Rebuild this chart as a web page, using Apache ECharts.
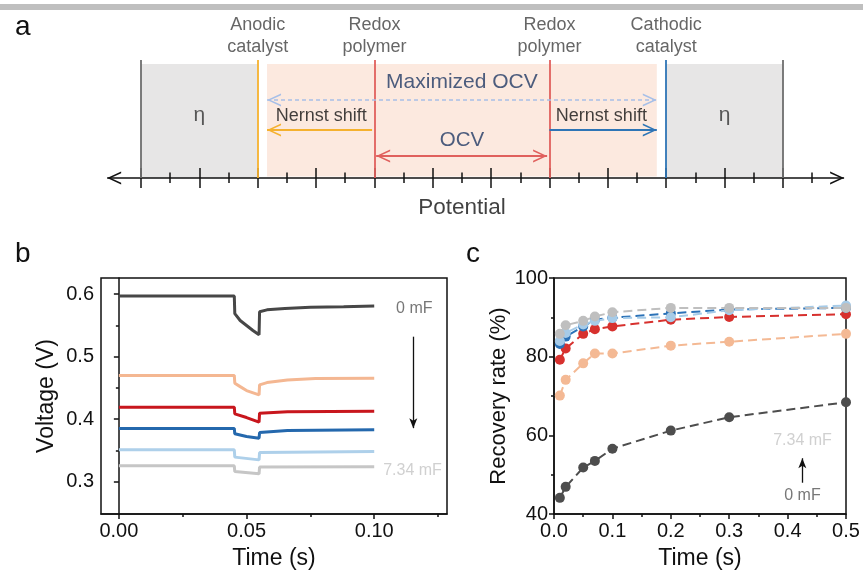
<!DOCTYPE html>
<html><head><meta charset="utf-8">
<script src="https://cdn.jsdelivr.net/npm/echarts@6/dist/echarts.min.js"></script>
<style>html,body{margin:0;padding:0;background:#fff}#c{width:863px;height:572px}</style>
</head><body><div id="c"></div>
<script>
// ================= DATA =================
// ---- panel a : schematic on a potential axis (arbitrary units) ----
const potentialMajorTicks = [0,1,2,3,4,5,6,7,8,9,10,11];
const potentialMinorTicks = [0.5,1.5,2.5,3.5,4.5,5.5,6.5,7.5,8.5,9.5,10.5,11.5];
const potentialAxisEnds = [-0.58, 12.05];
const overpotentialLeft = [0, 2];
const overpotentialRight = [9, 11];
const nernstWindow = [2.16, 8.84];
const levelPotentials = [0, 2, 4, 7, 9, 11];       // boundary, anodic cat., redox, redox, cathodic cat., boundary
const redoxPotentials = [4, 7];

// ---- panel b : voltage transients, time (s) / voltage (V) ----
const tB_0mF   = [0, 0.0452, 0.0454, 0.0475, 0.050, 0.0525, 0.0549, 0.0551, 0.058, 0.065, 0.075, 0.088, 0.100];
const vB_0mF   = [0.597, 0.597, 0.569, 0.558, 0.550, 0.542, 0.535, 0.572, 0.575, 0.577, 0.579, 0.580, 0.581];
const tB_c1    = [0, 0.0452, 0.0454, 0.0475, 0.050, 0.0549, 0.0551, 0.058, 0.066, 0.077, 0.100];
const vB_c1    = [0.470, 0.470, 0.4575, 0.452, 0.4457, 0.4388, 0.4548, 0.4585, 0.4628, 0.4649, 0.4655];
const tB_c2    = [0, 0.0452, 0.0454, 0.050, 0.0549, 0.0551, 0.066, 0.100];
const vB_c2    = [0.419, 0.419, 0.4084, 0.4025, 0.3951, 0.4095, 0.4116, 0.4127];
const tB_c3    = [0, 0.0452, 0.0454, 0.050, 0.0549, 0.0551, 0.066, 0.100];
const vB_c3    = [0.385, 0.385, 0.3764, 0.372, 0.3695, 0.3785, 0.3817, 0.3828];
const tB_c4    = [0, 0.0452, 0.0454, 0.0549, 0.0551, 0.100];
const vB_c4    = [0.3508, 0.3508, 0.3391, 0.3347, 0.3464, 0.348];
const tB_734mF = [0, 0.0452, 0.0454, 0.0549, 0.0551, 0.100];
const vB_734mF = [0.3251, 0.3251, 0.316, 0.3124, 0.3231, 0.3235];
const bXLabels = [0, 0.05, 0.10];
const bXMinor  = [0.025, 0.075, 0.125];
const bYLabels = [0.3, 0.4, 0.5, 0.6];
const bYMinor  = [0.35, 0.45, 0.55];

// ---- panel c : recovery rate (%) vs time (s) ----
const tC = [0.01, 0.02, 0.05, 0.07, 0.1, 0.2, 0.3, 0.5];
const rC_0mF   = [44.1, 46.9, 51.8, 53.5, 56.6, 61.2, 64.6, 68.4];
const rC_c1    = [70.1, 74.1, 78.3, 80.8, 80.8, 82.8, 83.8, 85.8];
const rC_c2    = [79.2, 82.1, 85.8, 87.0, 87.7, 89.4, 90.1, 90.8];
const rC_c3    = [83.2, 85.1, 87.7, 89.4, 89.9, 91.0, 92.0, 92.4];
const rC_c4    = [84.0, 86.0, 88.2, 89.1, 89.8, 90.0, 91.8, 93.0];
const rC_734mF = [85.8, 88.0, 89.1, 90.2, 91.3, 92.4, 92.4, 92.4];

// ================= STYLE =================
const FONT = "'Liberation Sans', Arial, Helvetica, sans-serif";
const colB = ['#474747', '#f4b792', '#c8161d', '#2468ad', '#aed0ea', '#c6c6c6'];
const colC = ['#4d4d4d', '#f4b994', '#d7312e', '#2b72b8', '#a6cbe8', '#bfbfbf'];
const chev = 'path://M6.5,0L6.5,0.01M6.5,14L13,28L11.35,28L6.5,17.56L1.65,28L0,28Z';
const chevSize = [13, 28];
const levelColors = ['#6e6e6e', '#f5b12e', '#e0605d', '#e0605d', '#2e75b6', '#6e6e6e'];

const zip = (a, b) => a.map((x, i) => [x, b[i]]);

// ---- panel a marker lines ----
const aLines = [];
function seg(p0, p1, style, s0, s1) {
  aLines.push([
    {coord: p0, symbol: s0 || 'none', symbolSize: chevSize},
    {coord: p1, symbol: s1 || 'none', symbolSize: chevSize, lineStyle: Object.assign({type: 'solid'}, style)}
  ]);
}
seg([potentialAxisEnds[0], 0], [potentialAxisEnds[1], 0], {color: '#111', width: 1.5}, chev, chev);
potentialMajorTicks.forEach(p => seg([p, 1.0], [p, -1.0], {color: '#111', width: 1.5}));
potentialMinorTicks.forEach(p => seg([p, 0.55], [p, -0.5], {color: '#111', width: 1.5}));
levelPotentials.forEach((p, i) => seg([p, 0], [p, 11.8], {color: levelColors[i], width: 1.8}));
seg([nernstWindow[0], 7.8], [nernstWindow[1], 7.8], {color: '#a6bfe8', width: 1.5, type: [4, 3]}, chev, chev);
seg([redoxPotentials[0] - 0.04, 4.8], [nernstWindow[0], 4.8], {color: '#f5b12e', width: 2}, 'none', chev);
seg([redoxPotentials[1], 4.8], [nernstWindow[1], 4.8], {color: '#2e75b6', width: 2}, 'none', chev);
seg([redoxPotentials[0] + 0.03, 2.2], [redoxPotentials[1] - 0.04, 2.2], {color: '#e0605d', width: 1.8}, chev, chev);

function txt(x, y, text, size, color, extra) {
  return {value: [x, y], label: Object.assign({show: true, formatter: text, position: 'inside',
    fontSize: size, color: color, fontFamily: FONT, lineHeight: 22}, extra || {})};
}
const aTexts = [
  txt(levelPotentials[1], 14.2, 'Anodic\ncatalyst', 18, '#404040'),
  txt(levelPotentials[2], 14.2, 'Redox\npolymer', 18, '#404040'),
  txt(levelPotentials[3], 14.2, 'Redox\npolymer', 18, '#404040'),
  txt(levelPotentials[4], 14.2, 'Cathodic\ncatalyst', 18, '#404040'),
  txt(1, 6.3, 'η', 21, '#333'),
  txt(10, 6.3, 'η', 21, '#333'),
  txt(5.5, 9.6, 'Maximized OCV', 21, '#1f3864'),
  txt(3.09, 6.2, 'Nernst shift', 18, '#111'),
  txt(7.89, 6.2, 'Nernst shift', 18, '#111'),
  txt(5.5, 3.8, 'OCV', 20.5, '#1f3864'),
  txt(5.5, -3.0, 'Potential', 22.5, '#111')
];

// ---- axes helpers ----
const axLine = {show: true, lineStyle: {color: '#111', width: 1.5}};
const tickStyle = {color: '#111', width: 1.5};
const lblStyle = {fontSize: 20, color: '#111', fontFamily: FONT};
const nameStyle = {fontSize: 23, color: '#111', fontFamily: FONT};

function lineB(t, v, c) {
  return {type: 'line', xAxisIndex: 1, yAxisIndex: 1, data: zip(t, v), showSymbol: false, symbol: 'none',
    lineStyle: {color: c, width: 3}, itemStyle: {color: c}, silent: true, z: 3};
}
function lineC(r, c) {
  return {type: 'line', xAxisIndex: 3, yAxisIndex: 3, data: zip(tC, r), symbol: 'circle', symbolSize: 10,
    lineStyle: {color: c, width: 2, type: [9, 5]}, itemStyle: {color: c}, silent: true, z: 3};
}

const option = {
  animation: false,
  textStyle: {fontFamily: FONT},
  graphic: [{type: 'rect', shape: {x: 0, y: 4, width: 863, height: 6}, style: {fill: '#bfbfbf'}, silent: true}],
  title: [
    {text: 'a', left: 10, top: 8, textStyle: {fontSize: 28, fontWeight: 'normal', color: '#111', fontFamily: FONT}},
    {text: 'b', left: 10, top: 235, textStyle: {fontSize: 28, fontWeight: 'normal', color: '#111', fontFamily: FONT}},
    {text: 'c', left: 461, top: 235, textStyle: {fontSize: 28, fontWeight: 'normal', color: '#111', fontFamily: FONT}}
  ],
  grid: [
    {left: 100.155, top: 8, width: 752.7, height: 210, show: false},
    {left: 101, top: 278, width: 346, height: 236, show: true, borderColor: '#111', borderWidth: 1.5, backgroundColor: 'transparent'},
    {left: 554, top: 278, width: 292, height: 236, show: true, borderColor: '#111', borderWidth: 1.5, backgroundColor: 'transparent'}
  ],
  xAxis: [
    {gridIndex: 0, type: 'value', min: -0.7, max: 12.2, show: false},
    {gridIndex: 1, type: 'value', position: 'bottom', min: -0.007, max: 0.1285, axisLine: axLine, splitLine: {show: false},
      axisTick: {show: true, customValues: bXLabels, length: 5, lineStyle: tickStyle},
      axisLabel: Object.assign({customValues: bXLabels, margin: 7, formatter: v => v.toFixed(2)}, lblStyle),
      name: 'Time (s)', nameLocation: 'middle', nameGap: 33, nameTextStyle: nameStyle},
    {gridIndex: 1, type: 'value', position: 'bottom', min: -0.007, max: 0.1285, axisLine: {show: false}, splitLine: {show: false},
      axisTick: {show: true, customValues: bXMinor, length: 3, lineStyle: tickStyle}, axisLabel: {show: false}},
    {gridIndex: 2, type: 'value', position: 'bottom', min: 0, max: 0.5, interval: 0.1, axisLine: axLine, splitLine: {show: false},
      axisTick: {show: true, length: 5, lineStyle: tickStyle},
      minorTick: {show: true, splitNumber: 2, length: 3, lineStyle: tickStyle}, minorSplitLine: {show: false},
      axisLabel: Object.assign({margin: 7, formatter: v => v.toFixed(1)}, lblStyle),
      name: 'Time (s)', nameLocation: 'middle', nameGap: 33, nameTextStyle: nameStyle}
  ],
  yAxis: [
    {gridIndex: 0, type: 'value', min: -4, max: 17, show: false},
    {gridIndex: 1, type: 'value', position: 'left', min: 0.248, max: 0.626, axisLine: axLine, splitLine: {show: false},
      axisTick: {show: true, customValues: bYLabels, length: 5, lineStyle: tickStyle},
      axisLabel: Object.assign({customValues: bYLabels, margin: 7, formatter: v => v.toFixed(1)}, lblStyle),
      name: 'Voltage (V)', nameLocation: 'middle', nameGap: 43, nameTextStyle: nameStyle},
    {gridIndex: 1, type: 'value', position: 'left', min: 0.248, max: 0.626, axisLine: {show: false}, splitLine: {show: false},
      axisTick: {show: true, customValues: bYMinor, length: 3, lineStyle: tickStyle}, axisLabel: {show: false}},
    {gridIndex: 2, type: 'value', position: 'left', min: 40, max: 100, interval: 20, axisLine: axLine, splitLine: {show: false},
      axisTick: {show: true, length: 5, lineStyle: tickStyle},
      minorTick: {show: true, splitNumber: 2, length: 3, lineStyle: tickStyle}, minorSplitLine: {show: false},
      axisLabel: Object.assign({margin: 6}, lblStyle),
      name: 'Recovery rate (%)', nameLocation: 'middle', nameGap: 44, nameTextStyle: Object.assign({}, nameStyle, {fontSize: 22})}
  ],
  series: [
    // panel a
    {type: 'scatter', xAxisIndex: 0, yAxisIndex: 0, symbolSize: 0, data: aTexts, silent: true, clip: false, z: 6,
      emphasis: {disabled: true},
      markArea: {silent: true, label: {show: false}, data: [
        [{coord: [overpotentialLeft[0], 0], itemStyle: {color: '#e7e6e6'}}, {coord: [overpotentialLeft[1], 11.4]}],
        [{coord: [overpotentialRight[0], 0], itemStyle: {color: '#e7e6e6'}}, {coord: [overpotentialRight[1], 11.4]}],
        [{coord: [nernstWindow[0], 0.15], itemStyle: {color: '#fce9df'}}, {coord: [nernstWindow[1], 11.4]}]
      ]},
      markLine: {silent: true, symbol: ['none', 'none'], label: {show: false}, emphasis: {disabled: true},
        lineStyle: {type: 'solid'}, data: aLines}
    },
    // panel b
    lineB(tB_0mF, vB_0mF, colB[0]),
    lineB(tB_c1, vB_c1, colB[1]),
    lineB(tB_c2, vB_c2, colB[2]),
    lineB(tB_c3, vB_c3, colB[3]),
    lineB(tB_c4, vB_c4, colB[4]),
    lineB(tB_734mF, vB_734mF, colB[5]),
    {type: 'scatter', xAxisIndex: 1, yAxisIndex: 1, symbolSize: 0, silent: true, clip: false, z: 6,
      data: [txt(0.1157, 0.5765, '0 mF', 16, '#555'), txt(0.115, 0.317, '7.34 mF', 16, '#c4c4c4')],
      markLine: {silent: true, symbol: ['none', 'arrow'], symbolSize: [6, 10], label: {show: false},
        lineStyle: {type: 'solid', color: '#111', width: 1.3},
        data: [[{coord: [0.1153, 0.532]}, {coord: [0.1153, 0.3855]}]]}
    },
    // panel c
    lineC(rC_0mF, colC[0]),
    lineC(rC_c1, colC[1]),
    lineC(rC_c2, colC[2]),
    lineC(rC_c3, colC[3]),
    lineC(rC_c4, colC[4]),
    lineC(rC_734mF, colC[5]),
    {type: 'scatter', xAxisIndex: 3, yAxisIndex: 3, symbolSize: 0, silent: true, clip: false, z: 6,
      data: [txt(0.4255, 58.6, '7.34 mF', 16, '#c4c4c4'), txt(0.4255, 44.6, '0 mF', 16, '#555')],
      markLine: {silent: true, symbol: ['none', 'arrow'], symbolSize: [6, 10], label: {show: false},
        lineStyle: {type: 'solid', color: '#111', width: 1.3},
        data: [[{coord: [0.4252, 47.95]}, {coord: [0.4252, 54.17]}]]}
    }
  ]
};
echarts.init(document.getElementById('c'), null, {renderer: 'canvas'}).setOption(option);
</script></body></html>
